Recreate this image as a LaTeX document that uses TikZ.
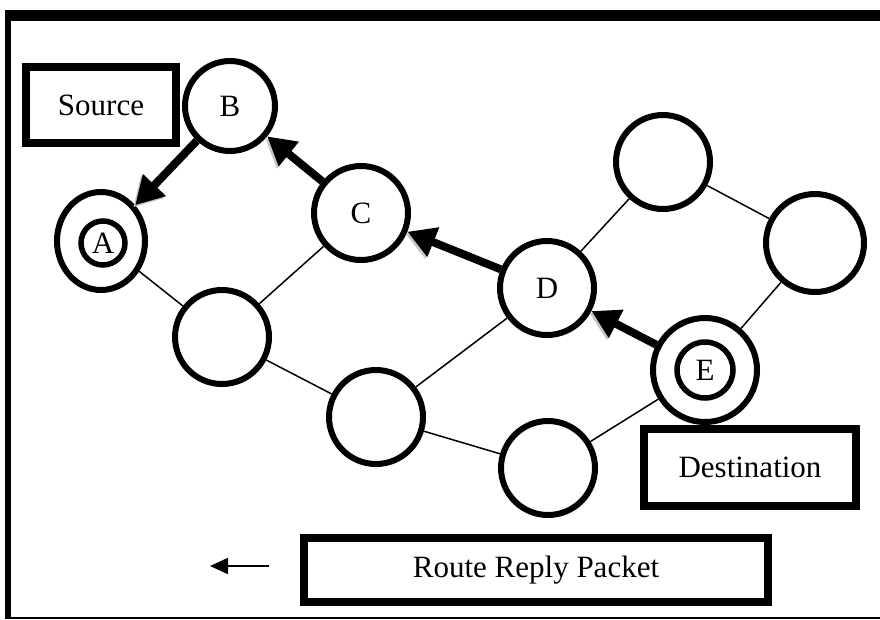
\documentclass[tikz,border=0pt]{standalone}
\usepackage{fontspec}
\setmainfont{Liberation Serif}
\usetikzlibrary{arrows.meta,shapes.geometric}
\begin{document}
\begin{tikzpicture}[x=1pt,y=-1pt,
  lbl/.style={font=\fontsize{31}{37}\selectfont},
  nd/.style={circle, draw, line width=6pt, minimum size=#1, inner sep=0pt, lbl},
  nd/.default=94pt,
  inr/.style={circle, draw, line width=5.5pt, minimum size=#1, inner sep=0pt, lbl},
  box/.style={draw, line width=8pt, minimum width=#1, inner sep=0pt, lbl},
  link/.style={line width=1.5pt},
  bigarrow/.style={line width=8pt, -{Triangle[length=28pt,width=30pt]},
    preaction={draw=gray!45, transform canvas={shift={(-2pt,-2pt)}}}},
  legendarrow/.style={line width=2pt, -{Triangle[length=18pt,width=16pt]}}
]
\fill[white] (0,0) rectangle (880,619);
\useasboundingbox (0,0) rectangle (880,619);

% frame
\draw[line width=11pt] (5,15.5) -- (880,15.5);
\draw[line width=6pt] (8,10) -- (8,619);
\draw[line width=2pt] (5,617.5) -- (880,617.5);

% boxes
\node[box=150pt, minimum height=76pt] (src) at (101,105) {Source};
\node[box=212pt, minimum height=77pt] (dst) at (750,467.5) {Destination};
\node[box=464pt, minimum height=64pt] (rrp) at (536,570) {Route Reply Packet};

% nodes
\node[ellipse, draw, line width=6pt, minimum width=88pt, minimum height=98pt, inner sep=0pt] (A) at (101,241) {};
\node[inr=44pt] (Ain) at (103,243) {A};
\node[nd=90pt] (B) at (230,106) {B};
\node[nd] (C) at (361,213) {C};
\node[nd] (D) at (547,288) {D};
\node[nd=104pt] (E) at (705,370) {};
\node[inr=56pt] (Ein) at (705,370) {E};
\node[nd] (n1) at (222,337) {};
\node[nd] (n2) at (376,417) {};
\node[nd] (n3) at (548,468) {};
\node[nd] (n4) at (663,162) {};
\node[nd=98pt] (n5) at (815,243) {};

% thin links
\draw[link] (A) -- (n1);
\draw[link] (n1) -- (C);
\draw[link] (n1) -- (n2);
\draw[link] (n2) -- (D);
\draw[link] (n2) -- (n3);
\draw[link] (n3) -- (E);
\draw[link] (D) -- (n4);
\draw[link] (n4) -- (n5);
\draw[link] (n5) -- (E);

% route reply arrows
\draw[bigarrow] (B) -- (A);
\draw[bigarrow] (C) -- (B);
\draw[bigarrow] (D) -- (C);
\draw[bigarrow] (E) -- (D);

% legend arrow
\coordinate (la1) at (269,566);
\coordinate (la2) at (210,566);
\draw[legendarrow] (la1) -- (la2);
\end{tikzpicture}
\end{document}
